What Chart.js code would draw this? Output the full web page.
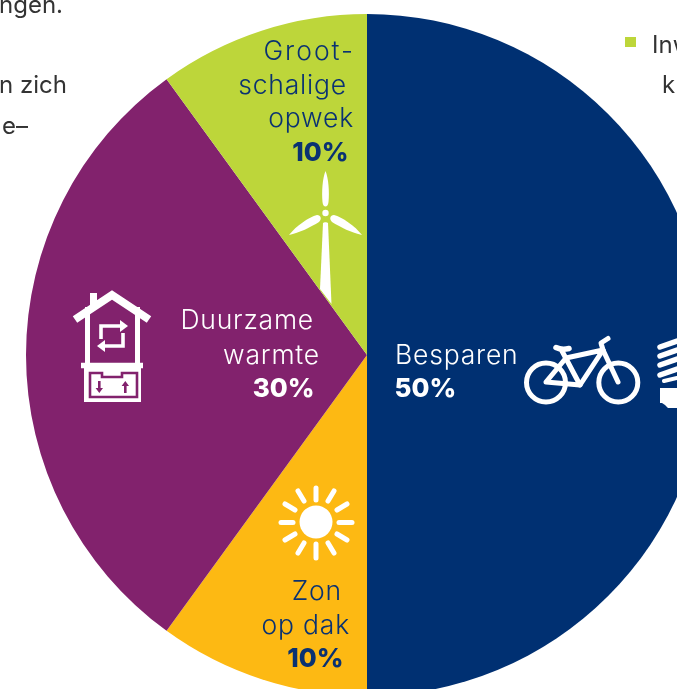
<!DOCTYPE html>
<html><head><meta charset="utf-8">
<script src="https://cdn.jsdelivr.net/npm/chart.js@4"></script>
<style>
html,body{margin:0;padding:0;background:#fff;width:677px;height:689px;overflow:hidden}
#wrap{position:absolute;left:0;top:0;width:677px;height:689px;overflow:hidden}
#box{position:absolute;left:-13px;top:-25px;width:760px;height:760px}
svg{position:absolute;left:0;top:0}
text{font-family:Inter,sans-serif}
.l{font-weight:300;font-size:26.5px;letter-spacing:.8px}
.g{letter-spacing:2px}
.b{font-weight:800;font-size:26px}
.t{font-weight:400;font-size:24px;fill:#333}
</style></head><body>
<div id="wrap">
<div id="box"><canvas id="cv"></canvas></div>
<svg width="677" height="689" viewBox="0 0 677 689">
<g>
<text class="t" x="63" y="13" text-anchor="end">ngen.</text>
<text class="t" x="67" y="93" text-anchor="end">n zich</text>
<text class="t" x="28" y="134" text-anchor="end">e–</text>
<text class="t" x="652" y="53">Inw</text>
<text class="t" x="662" y="93">k</text>
<rect x="625" y="37" width="11" height="10" fill="#BDD63A"/>
</g>
<g fill="#0A3272">
<text class="l g" x="355" y="60" text-anchor="end">Groot-</text>
<text class="l" x="347" y="94" text-anchor="end">schalige</text>
<text class="l" x="354" y="127" text-anchor="end">opwek</text>
<text class="b" x="348.5" y="161" text-anchor="end">10%</text>
<text class="l" x="342" y="600" text-anchor="end">Zon</text>
<text class="l" x="350" y="634" text-anchor="end">op dak</text>
<text class="b" x="343.5" y="667" text-anchor="end">10%</text>
</g>
<g fill="#fff">
<text class="l" x="314" y="329" text-anchor="end">Duurzame</text>
<text class="l" x="320" y="364" text-anchor="end">warmte</text>
<text class="b" x="314.5" y="397" text-anchor="end">30%</text>
<text class="l" x="395" y="364">Besparen</text>
<text class="b" x="394.5" y="397">50%</text>
</g>
<!-- wind turbine -->
<g fill="#fff">
<path d="M325.5 171 C328.5 178 329.5 192 328.5 202 C328 208 323 208 322.5 202 C321.5 192 322.5 178 325.5 171Z"/>
<circle cx="325.5" cy="213" r="3.2"/>
<path d="M289 235 C296 226 309 217 317 215 C321 215 322 219 319 222 C311 227 299 233 289 235Z"/>
<path d="M362 235 C355 226 342 217 334 215 C330 215 329 219 332 222 C340 227 352 233 362 235Z"/>
<path d="M323 223 C324 222 327 222 328 223 L331.5 304 L320 289Z"/>
</g>
<!-- house -->
<g fill="none" stroke="#fff">
<path d="M75 319.5 L112 295 L149 319.5" stroke-width="8"/>
<path fill="#fff" stroke="none" d="M90 293 H97 V306 H90Z"/>
<path d="M87.5 307 V364 M137.5 307 V364" stroke-width="5"/>
<path d="M81 365.5 H143" stroke-width="5.5"/>
<path d="M101 339 V326 H122 M123 333 V346 H102" stroke-width="3.6"/>
</g>
<g fill="#fff">
<path d="M120 320 L128 326 L120 332Z"/>
<path d="M105 340 L97 346 L105 352Z"/>
<rect x="84" y="368" width="57" height="34"/>
</g>
<path d="M90 373 H102 V377 H122 V373 H137 V397 H90Z" fill="none" stroke="#82226D" stroke-width="2.6"/>
<g fill="#82226D">
<path d="M98 381 H100.6 V388 H103 L99.3 393 L95.6 388 H98Z"/>
<path d="M124 393 H126.6 V386 H129 L125.3 381 L121.6 386 H124Z"/>
</g>
<!-- bike -->
<g fill="none" stroke="#fff" stroke-width="5" stroke-linecap="round" stroke-linejoin="round">
<circle cx="546" cy="382.5" r="19.5"/>
<circle cx="618.3" cy="382.5" r="19.5"/>
<path d="M546 382 L566 358 L603 350 L580 385 Z"/>
<path d="M562 351 L580 385"/>
<path d="M603 350 L618 382"/>
<path d="M603 350 L601 343 L608 338.5"/>
<path d="M556 347.5 C561 350 565 349.5 569 348.5" stroke-width="5.5"/>
</g>
<!-- bulb -->
<g fill="none" stroke="#fff" stroke-width="5.5" stroke-linecap="round">
<path d="M660 347 L677 341"/>
<path d="M660 356 L677 350"/>
<path d="M660 365 L677 359"/>
<path d="M660 375 L677 369"/>
<path d="M664 381 L677 378" stroke-width="4"/>
</g>
<path fill="#fff" d="M660 388 H677 V408 H668 L665 405 L662 403 H660Z"/>
<!-- sun -->
<circle cx="316" cy="522" r="16.5" fill="#fff"/>
<g stroke="#fff" stroke-width="5" stroke-linecap="round">
<path d="M316 488 V500"/><path d="M316 544 V558"/>
<path d="M281 522.5 H293"/><path d="M339 522.5 H352"/>
<path d="M298 491 L304 501"/><path d="M328 543 L334 553"/>
<path d="M334 491 L328 501"/><path d="M304 543 L298 553"/>
<path d="M285 504 L295 510"/><path d="M337 534 L347 540"/>
<path d="M347 504 L337 510"/><path d="M295 534 L285 540"/>
</g>
</svg>
</div>
<script>
const categories = ['Besparen', 'Zon op dak', 'Duurzame warmte', 'Grootschalige opwek'];
const shares = [50, 10, 30, 10];
const sliceColors = ['#003072', '#FDB913', '#82226D', '#BDD63A'];
new Chart(document.getElementById('cv'), {
  type: 'pie',
  data: { labels: categories, datasets: [{ data: shares, backgroundColor: sliceColors, borderWidth: 0 }] },
  options: {
    responsive: true, maintainAspectRatio: false, animation: false,
    layout: { padding: 39 },
    plugins: { legend: { display: false }, tooltip: { enabled: false } }
  }
});
</script>
</body></html>
